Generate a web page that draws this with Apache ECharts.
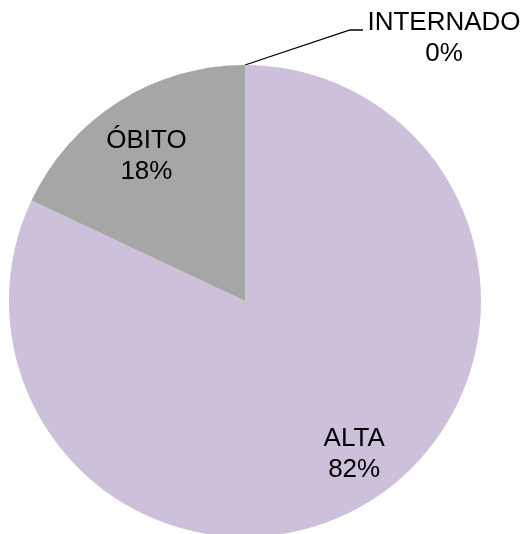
<!DOCTYPE html>
<html>
<head>
<meta charset="utf-8">
<script src="https://cdn.jsdelivr.net/npm/echarts@6/dist/echarts.min.js"></script>
<style>
  html, body { margin: 0; padding: 0; background: #fff; }
  #chart { width: 525px; height: 534px; }
</style>
</head>
<body>
<div id="chart"></div>
<script>
// dados do gráfico
const categories = ['ALTA', 'ÓBITO', 'INTERNADO'];
const values = [82, 18, 0];
const colors = ['#CCC0DA', '#A6A6A6', '#A6A6A6'];

const cx = 245, cy = 301, r = 236;
// posição radial dos rótulos internos (fração do raio) e pequeno ajuste
const labelFrac = [0.80, 0.74];
const labelShift = [[8, -6], [-5, 3]];

const total = values.reduce((a, b) => a + b, 0);
const midAngles = [];
let acc = 0;
values.forEach(v => {
    midAngles.push((acc + v / 2) / total * Math.PI * 2);
    acc += v;
});

const data = categories.map((name, i) => {
    let item = { name: name, value: values[i], itemStyle: { color: colors[i] } };
    if (values[i] === 0) {
        item.label = { position: 'outside' };
        item.labelLine = { show: true, lineStyle: { color: '#000', width: 1.3 } };
    }
    return item;
});

let option = {
    animation: false,
    series: [{
        type: 'pie',
        center: [cx, cy],
        radius: r,
        startAngle: 90,
        clockwise: true,
        percentPrecision: 0,
        avoidLabelOverlap: false,
        data: data,
        label: {
            show: true,
            position: 'inside',
            formatter: '{b}\n{d}%',
            color: '#000',
            fontFamily: 'Liberation Sans',
            fontSize: 26,
            lineHeight: 31
        },
        labelLine: { show: false },
        emphasis: { disabled: true },
        labelLayout: function (params) {
            const i = params.dataIndex;
            if (values[i] === 0) {
                return {
                    x: 444, y: 38,
                    align: 'center', verticalAlign: 'middle',
                    labelLinePoints: [[cx, cy - r], [350, 30], [363, 30]]
                };
            }
            const a = midAngles[i];
            const d = r * labelFrac[i];
            return {
                x: cx + d * Math.sin(a) + labelShift[i][0],
                y: cy - d * Math.cos(a) + labelShift[i][1],
                align: 'center', verticalAlign: 'middle'
            };
        }
    }]
};

var myChart = echarts.init(document.getElementById('chart'));
myChart.setOption(option);
</script>
</body>
</html>
